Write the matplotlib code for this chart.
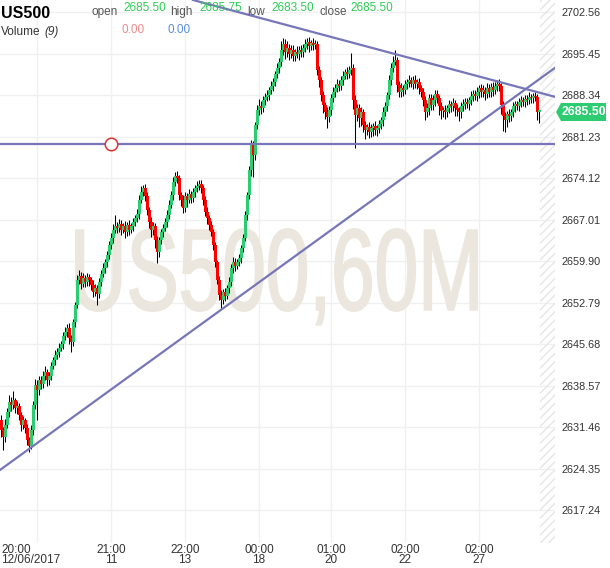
import matplotlib
matplotlib.use('Agg')
import matplotlib.pyplot as plt
import numpy as np
from matplotlib.patches import PathPatch, Polygon, Rectangle
from matplotlib.textpath import TextPath
from matplotlib.font_manager import FontProperties
from matplotlib.transforms import Affine2D, IdentityTransform

plt.rcParams['font.family'] = ['Liberation Sans', 'DejaVu Sans']

W, H = 610, 568

# hourly closes (open of each candle = previous close)
first_open = 2632.67
closes = [
    2630.95, 2629.75, 2631.81, 2634.04, 2635.75, 2635.24, 2636.09, 2634.72, 2635.06, 2633.52,
    2631.81, 2632.67, 2631.30, 2629.24, 2628.21, 2630.95, 2635.24, 2638.66, 2637.81, 2639.52,
    2638.83, 2640.20, 2640.89, 2639.52, 2640.20, 2641.92, 2642.94, 2643.80, 2644.32, 2645.00,
    2645.69, 2647.06, 2647.74, 2648.43, 2646.71, 2646.03, 2649.45, 2652.37, 2656.65, 2657.34,
    2655.97, 2656.99, 2656.31, 2657.16, 2656.65, 2655.79, 2654.59, 2655.28, 2654.25, 2656.31,
    2657.68, 2658.71, 2659.73, 2660.93, 2662.65, 2663.85, 2665.22, 2665.90, 2665.56, 2666.24,
    2665.22, 2665.90, 2664.87, 2666.07, 2665.22, 2665.90, 2666.59, 2667.27, 2667.96, 2670.36,
    2671.73, 2672.41, 2671.04, 2668.64, 2666.59, 2665.22, 2665.90, 2663.50, 2661.45, 2663.50,
    2664.87, 2665.56, 2666.59, 2667.79, 2669.50, 2671.21, 2673.44, 2674.47, 2674.13, 2671.21,
    2670.36, 2668.99, 2671.04, 2670.36, 2671.38, 2670.70, 2671.73, 2672.41, 2672.75, 2673.10,
    2672.41, 2670.36, 2668.30, 2667.27, 2666.07, 2664.87, 2662.65, 2659.73, 2656.65, 2654.08,
    2653.22, 2654.59, 2653.91, 2655.28, 2656.31, 2658.71, 2659.73, 2659.05, 2659.73, 2660.42,
    2662.13, 2663.85, 2667.79, 2671.21, 2675.50, 2679.78, 2678.07, 2683.20, 2685.77, 2686.46,
    2686.12, 2687.49, 2688.00, 2688.34, 2689.20, 2689.89, 2690.57, 2691.94, 2692.97, 2694.00,
    2696.05, 2697.08, 2695.71, 2696.40, 2695.37, 2696.05, 2695.03, 2695.71, 2695.37, 2696.05,
    2695.71, 2696.40, 2697.08, 2697.42, 2696.74, 2697.25, 2696.91, 2697.08, 2692.63, 2690.91,
    2688.34, 2686.63, 2685.43, 2684.58, 2685.77, 2687.83, 2688.86, 2689.54, 2690.23, 2689.89,
    2690.91, 2691.60, 2692.28, 2691.94, 2692.63, 2692.97, 2687.49, 2684.92, 2686.12, 2684.40,
    2685.43, 2683.20, 2682.35, 2682.86, 2682.01, 2682.69, 2683.03, 2682.35, 2682.69, 2683.38,
    2684.06, 2685.43, 2686.46, 2688.34, 2690.91, 2692.97, 2694.00, 2694.34, 2690.06, 2688.86,
    2689.54, 2689.20, 2690.23, 2690.57, 2690.91, 2690.23, 2690.91, 2690.23, 2690.57, 2689.54,
    2688.86, 2687.49, 2685.43, 2686.12, 2687.83, 2686.63, 2687.49, 2688.52, 2687.83, 2686.46,
    2685.60, 2685.77, 2685.43, 2686.12, 2686.80, 2686.46, 2686.97, 2686.12, 2685.77, 2685.43,
    2686.46, 2686.80, 2687.15, 2686.80, 2687.49, 2688.17, 2688.52, 2688.17, 2688.86, 2689.54,
    2688.86, 2689.20, 2688.52, 2689.54, 2688.86, 2689.72, 2689.20, 2689.89, 2690.23, 2689.89,
    2686.63, 2684.75, 2684.06, 2685.09, 2684.75, 2685.43, 2686.46, 2686.80, 2686.46, 2687.15,
    2687.49, 2687.15, 2687.66, 2687.49, 2688.00, 2687.83, 2688.17, 2688.00, 2685.50, 2685.50,
]
# wick length above the body / below the body
up_wick = [
    0.8, 0.5, 1.0, 0.6, 1.2, 0.9, 1.5, 0.4, 0.8, 0.6,
    0.5, 0.7, 0.4, 0.6, 0.5, 0.8, 0.6, 1.0, 0.9, 0.7,
    0.6, 0.8, 1.0, 0.5, 0.7, 0.6, 0.5, 0.8, 0.6, 0.9,
    0.5, 0.7, 0.8, 0.6, 0.9, 0.5, 0.6, 0.5, 0.8, 1.0,
    0.6, 0.8, 0.5, 0.7, 0.6, 0.5, 0.9, 0.6, 0.5, 0.7,
    0.6, 0.8, 0.5, 0.7, 0.6, 0.9, 1.0, 1.9, 0.6, 0.8,
    0.7, 0.5, 0.9, 0.6, 0.8, 0.5, 0.7, 0.6, 0.9, 0.8,
    1.0, 0.5, 0.7, 0.6, 0.5, 0.8, 0.6, 0.5, 0.7, 0.6,
    0.5, 0.7, 0.6, 0.8, 0.9, 0.7, 0.9, 0.6, 0.8, 0.5,
    0.6, 0.8, 0.7, 0.5, 0.9, 0.6, 0.7, 0.5, 0.8, 0.6,
    0.7, 0.5, 0.6, 0.8, 0.5, 0.7, 0.6, 0.5, 0.4, 0.6,
    0.8, 0.6, 0.7, 0.5, 0.9, 0.6, 0.8, 0.7, 0.5, 0.6,
    0.5, 0.7, 0.6, 0.5, 0.6, 0.8, 0.7, 0.6, 0.9, 1.2,
    0.8, 0.6, 0.7, 0.9, 0.6, 0.8, 0.7, 0.6, 0.8, 0.7,
    1.6, 1.0, 0.8, 1.2, 0.7, 0.9, 0.8, 0.6, 1.0, 0.7,
    0.8, 0.6, 0.9, 0.7, 0.8, 0.6, 0.9, 0.7, 0.5, 0.6,
    0.5, 0.7, 0.6, 0.8, 0.7, 0.6, 0.9, 0.7, 0.8, 0.6,
    0.7, 0.9, 0.6, 0.8, 0.7, 2.5, 0.6, 0.8, 0.7, 0.6,
    0.8, 0.5, 0.7, 0.6, 0.8, 0.7, 0.6, 0.8, 0.5, 0.7,
    0.6, 0.8, 0.7, 0.6, 0.8, 0.9, 1.0, 1.7, 0.6, 0.7,
    0.8, 0.6, 0.7, 0.5, 0.8, 0.6, 0.7, 0.9, 0.6, 0.7,
    0.5, 0.7, 0.6, 0.8, 0.7, 0.6, 0.8, 0.7, 0.6, 0.5,
    0.7, 0.6, 0.8, 0.5, 0.7, 0.6, 0.8, 0.6, 0.7, 0.5,
    0.6, 0.8, 0.7, 0.6, 0.5, 0.8, 0.6, 0.7, 0.9, 0.6,
    0.7, 0.8, 0.6, 0.9, 0.7, 0.6, 0.8, 0.7, 0.6, 0.9,
    0.5, 0.7, 0.6, 0.5, 0.8, 0.6, 0.7, 0.5, 0.6, 0.7,
    0.6, 0.5, 0.7, 0.6, 0.8, 0.5, 0.6, 0.7, 0.5, 0.25,
]
dn_wick = [
    1.2, 2.2, 0.8, 0.6, 0.9, 1.0, 0.7, 0.8, 1.1, 0.9,
    1.0, 0.7, 0.9, 0.8, 1.0, 0.6, 0.8, 0.7, 5.1, 0.8,
    0.9, 0.7, 0.6, 1.0, 0.8, 0.7, 0.6, 0.9, 0.7, 0.8,
    0.6, 0.9, 0.7, 0.8, 1.0, 1.7, 0.7, 0.8, 0.6, 0.7,
    0.9, 0.6, 0.8, 0.7, 1.0, 0.8, 0.9, 0.7, 1.9, 0.6,
    0.7, 0.6, 0.8, 0.9, 0.6, 0.7, 0.8, 0.6, 0.9, 0.7,
    0.8, 0.6, 1.0, 0.7, 0.9, 0.6, 0.8, 0.7, 0.6, 0.8,
    0.6, 0.7, 0.9, 0.8, 1.0, 1.2, 0.8, 1.3, 1.9, 0.8,
    0.7, 0.9, 0.6, 0.8, 0.7, 0.6, 0.8, 0.7, 0.9, 0.8,
    1.0, 0.8, 0.7, 1.2, 0.6, 0.9, 0.7, 0.8, 0.6, 0.7,
    0.8, 0.9, 0.7, 1.0, 0.8, 0.7, 0.9, 0.8, 0.7, 0.9,
    1.3, 0.7, 0.9, 0.6, 0.8, 0.7, 0.9, 0.8, 0.6, 0.7,
    0.8, 0.7, 0.6, 0.8, 0.7, 1.0, 3.8, 0.8, 0.7, 0.9,
    1.0, 0.7, 0.8, 0.6, 0.9, 0.7, 0.8, 0.6, 0.7, 0.8,
    0.7, 0.9, 1.2, 0.8, 1.0, 0.7, 0.9, 0.8, 0.7, 1.0,
    0.8, 0.9, 0.7, 0.8, 1.0, 0.7, 0.8, 0.6, 0.9, 1.2,
    1.0, 1.4, 1.2, 1.9, 0.8, 0.9, 0.7, 0.8, 0.6, 0.9,
    0.7, 0.8, 0.6, 0.9, 0.7, 0.8, 1.5, 5.6, 1.0, 1.5,
    1.3, 1.2, 1.5, 0.8, 1.0, 0.9, 1.4, 0.8, 1.0, 0.9,
    0.8, 1.0, 0.7, 0.9, 0.6, 0.8, 0.7, 0.6, 1.2, 0.9,
    0.8, 1.0, 0.7, 0.9, 0.8, 0.6, 0.9, 0.7, 0.8, 1.0,
    0.9, 1.0, 1.4, 0.8, 1.2, 0.9, 0.8, 1.0, 0.9, 1.5,
    1.4, 1.0, 1.2, 0.9, 0.8, 1.0, 0.9, 1.3, 1.0, 1.5,
    1.0, 0.8, 0.9, 0.7, 1.0, 0.8, 0.9, 0.7, 0.8, 1.0,
    0.9, 0.8, 1.0, 0.7, 0.9, 0.8, 1.0, 0.7, 0.8, 0.9,
    1.5, 2.5, 2.0, 1.2, 1.0, 0.9, 0.8, 1.0, 0.7, 0.9,
    0.8, 0.7, 0.9, 0.8, 0.7, 0.9, 0.8, 0.7, 1.5, 2.0,
]

price_ticks = [2617.24, 2624.35, 2631.46, 2638.57, 2645.68, 2652.79, 2659.90,
               2667.01, 2674.12, 2681.23, 2688.34, 2695.45, 2702.56]
time_tick_idx = [18, 55, 92, 129, 165, 202, 239]
time_tick_labels = ['20:00\n12/06/2017', '21:00\n11', '22:00\n13', '00:00\n18',
                    '01:00\n20', '02:00\n22', '02:00\n27']

# drawn objects (candle index, price)
support_level = 2679.95
support_marker_idx = 55
upper_trend = ([96, 275.5], [2704.62, 2688.17])
lower_trend = ([-0.5, 275.5], [2624.10, 2692.63])

symbol = 'US500'
ohlc_labels = ['open', 'high', 'low', 'close']
ohlc_values = [2685.50, 2685.75, 2683.50, 2685.50]
volume_values = [0.00, 0.00]
last_price = 2685.50

GREEN = '#2ecc71'
RED = '#ff0000'
LINE = '#7676b8'
NARROW = ['Liberation Sans Narrow', 'Liberation Sans']

fig = plt.figure(figsize=(W / 100, H / 100), dpi=100)
ax = fig.add_axes([0, 1 - 543 / H, 555 / W, 543 / H])
ax.set_xlim(-0.5, 277)
ax.set_ylim(2611.59, 2704.62)
for s in ax.spines.values():
    s.set_visible(False)

# watermark
fp = FontProperties(family='Liberation Sans')
tp = TextPath((0, 0), 'US500,60M', size=100, prop=fp)
bx = tp.get_extents()
by = TextPath((0, 0), 'US500', size=100, prop=fp).get_extents()
x0, x1, y0, y1 = 76, 477, H - 311, H - 229
tr = Affine2D().translate(-bx.x0, -by.y0).scale((x1 - x0) / bx.width, (y1 - y0) / by.height).translate(x0, y0)
ax.add_patch(PathPatch(tr.transform_path(tp), fc='#ece7de', ec='#ece7de', lw=1.4,
                       transform=IdentityTransform(), zorder=1))

# future area
ax.add_patch(Rectangle((269.5, 2600), 10, 120, fill=False, hatch='////',
                       edgecolor='#e6e6e6', lw=0, zorder=1))

# candles
opens = [first_open] + closes[:-1]
o = np.array(opens)
c = np.array(closes)
x = np.arange(len(c))
hi = np.maximum(o, c) + np.array(up_wick)
lo = np.minimum(o, c) - np.array(dn_wick)
ax.vlines(x, lo, hi, color='black', lw=0.75, zorder=3)
ax.bar(x, np.maximum(np.abs(c - o), 0.25), bottom=np.minimum(o, c), width=1.5,
       color=np.where(c >= o, GREEN, RED), linewidth=0, zorder=4)

# drawings
ax.axhline(support_level, color=LINE, lw=1.6, zorder=5)
ku = np.polyfit(*upper_trend, 1)
xu = np.array([upper_trend[0][0], 277])
ax.plot(xu, np.polyval(ku, xu), color=LINE, lw=1.6, zorder=5)
kl = np.polyfit(*lower_trend, 1)
xl = np.array([-0.5, 277])
ax.plot(xl, np.polyval(kl, xl), color=LINE, lw=1.6, zorder=5)
ax.plot([support_marker_idx], [support_level], 'o', ms=9, mfc='white', mec='#e03030', mew=1.1, zorder=6)

# axes
ax.set_yticks(price_ticks)
ax.set_yticklabels([f'{v:.2f}' for v in price_ticks])
ax.yaxis.tick_right()
ax.tick_params(axis='y', length=0, pad=5, labelsize=7.8, labelcolor='#333333')
ax.set_xticks(time_tick_idx)
ax.set_xticklabels([''] + time_tick_labels[1:], linespacing=0.85, family=NARROW)
ax.tick_params(axis='x', length=0, pad=0.5, labelsize=8.5, labelcolor='#333333')
ax.grid(True, color='#f0f0f0', lw=1, zorder=0)
ax.set_axisbelow(True)


def fx(px):
    return px / W


def fy(py):
    return 1 - py / H


fig.text(fx(1), fy(543.7), time_tick_labels[0], ha='left', va='top', fontsize=8.5,
         color='#333333', linespacing=0.85, family=NARROW)

# header
fig.text(fx(1), fy(13), symbol, fontsize=11.5, fontweight='bold', va='center', color='black')
lab_x = [91, 170, 247, 320]
val_x = [123, 199, 271, 350]
for lx, vx, lab, v in zip(lab_x, val_x, ohlc_labels, ohlc_values):
    fig.text(fx(lx), fy(12), lab, fontsize=8.5, va='center', color='#555555')
    fig.text(fx(vx), fy(8), f'{v:.2f}', fontsize=8.5, va='center', color='#2ecc55')
fig.text(fx(1), fy(32), 'Volume', fontsize=8.5, va='center', color='#333333')
fig.text(fx(44), fy(32), '(9)', fontsize=8.5, va='center', color='#333333', style='italic')
fig.text(fx(122), fy(30), f'{volume_values[0]:.2f}', fontsize=8.5, va='center', color='#ef8a8a')
fig.text(fx(167), fy(30), f'{volume_values[1]:.2f}', fontsize=8.5, va='center', color='#5b8dd9')

# last price tag
py = 112
tag = [(556, py), (561, py - 9), (606, py - 9), (606, py + 9), (561, py + 9)]
fig.add_artist(Polygon([(fx(a), fy(b)) for a, b in tag], closed=True, fc=GREEN, ec='none',
                       transform=fig.transFigure))
fig.text(fx(583.5), fy(py), f'{last_price:.2f}', fontsize=8.8, fontweight='bold',
         color='white', ha='center', va='center')

fig.savefig('out.png', dpi=100)
